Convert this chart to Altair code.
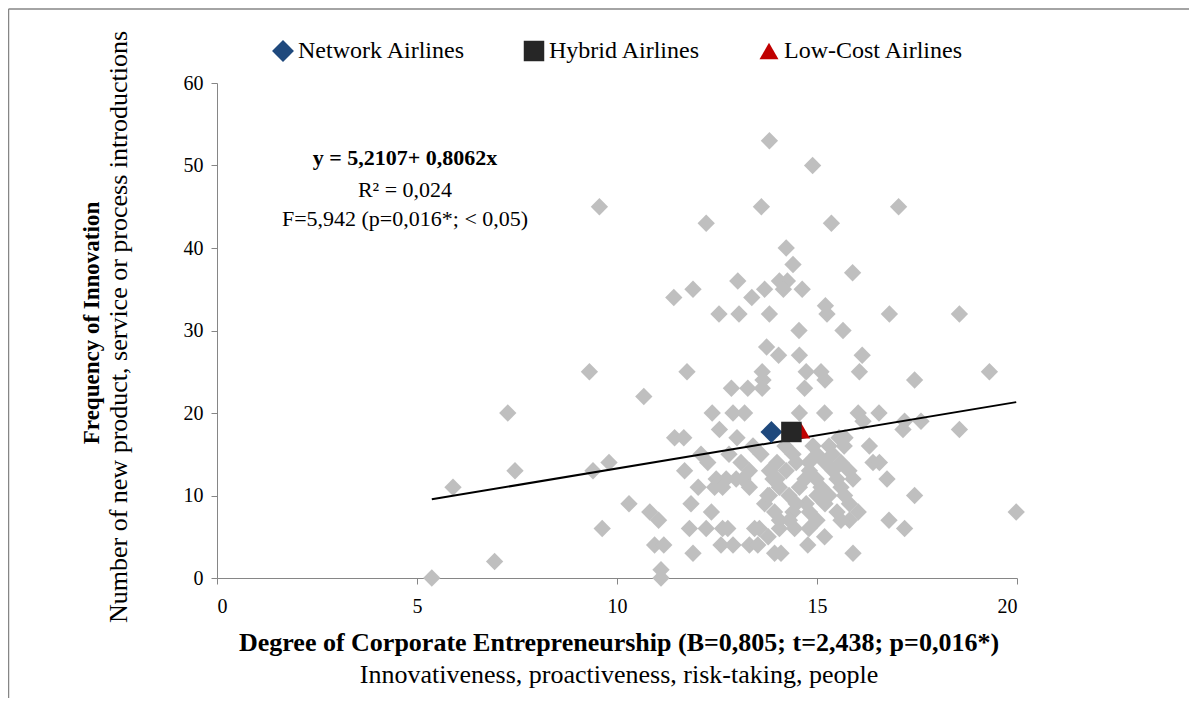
import altair as alt
import pandas as pd

# Degree of Corporate Entrepreneurship (x) and Frequency of Innovation (y)
ce = [5.37, 5.9, 6.94, 7.27, 7.45, 9.31, 9.4, 9.56, 9.63, 9.8,
      10.3, 10.67, 10.82, 11.04, 10.94, 11.17, 11.1, 11.1, 11.9, 11.69,
      11.85, 11.81, 11.44, 11.67, 11.75, 12.1, 12.27, 11.42, 11.9, 12.23,
      13.81, 14.89, 13.61, 15.36, 14.23, 14.4, 13.02, 14.06, 14.26, 13.69,
      14.16, 14.63, 13.37, 15.21, 15.25, 12.55, 13.05, 13.81, 14.55, 13.74,
      14.04, 14.56, 13.63, 14.73, 15.1, 13.65, 15.2, 12.86, 13.27, 13.63,
      14.69, 12.38, 12.9, 13.19, 14.56, 15.19, 12.56,
      17.04, 15.89, 16.81, 18.56, 15.65, 16.13, 16.06, 17.44, 19.31,
      16.03, 16.55, 16.15, 17.19, 17.6, 17.15, 18.56, 16.31, 16.4, 16.56,
      16.75, 17.44, 15.69, 15.81, 16.03, 19.98, 15.81, 16.8, 17.19, 15.19,
      15.9, 15.68, 15.55, 15.7, 15.39,
      12.48, 12.73, 12.98, 12.44, 12.64, 13.31, 13.15, 13.31, 13.1, 13.81,
      13.9, 14.06, 13.81, 13.69, 14.23, 14.48, 14.81, 14.56, 14.98, 14.73,
      14.4, 14.06, 13.56, 12.36, 12.23, 12.64, 12.77, 13.44, 13.78, 14.06,
      14.44, 12.6, 12.9, 13.31, 13.52, 13.94, 14.1, 14.77, 14.31, 14.48,
      14.81, 13.77, 13.94, 12.03, 14.0, 14.4, 14.8, 15.2, 13.4, 13.0,
      12.8, 13.6, 14.2, 14.9, 15.3, 15.0, 15.4, 15.1, 15.5, 15.3,
      15.6, 15.0, 14.3, 14.7, 15.2, 15.5, 14.0, 15.6, 15.8, 15.9,
      15.6, 15.0, 14.8]
freq = [0, 11, 2, 20, 13, 25, 13, 45, 6, 14,
        9, 22, 8, 7, 4, 4, 1, 0, 3, 13,
        9, 6, 17, 17, 25, 15, 14, 34, 35, 43,
        53, 50, 45, 43, 40, 38, 36, 36, 36, 35,
        35, 35, 34, 33, 32, 32, 32, 32, 30, 28,
        27, 27, 25, 25, 25, 24, 24, 23, 23, 23,
        23, 20, 20, 20, 20, 20, 18,
        45, 37, 32, 32, 30, 27, 25, 24, 25,
        20, 20, 19, 19, 19, 18, 18, 16, 14, 14,
        12, 10, 10, 9, 8, 8, 7, 7, 6, 5,
        3, 16, 17, 17, 15,
        12, 12, 12, 11, 11, 13, 12, 11, 14, 13,
        12, 11, 10, 9, 13, 14, 13, 11, 12, 9,
        8, 7, 6, 8, 6, 6, 6, 6, 5, 6,
        6, 4, 4, 4, 4, 3, 3, 4, 7, 9,
        8, 10, 8, 11, 14, 15, 14, 14, 16, 17,
        15, 15, 16, 16, 16, 15, 13, 11, 12, 10,
        11, 10, 10, 12, 9, 8, 12, 14, 13, 12,
        7, 7, 6]

groups = ["Network Airlines", "Hybrid Airlines", "Low-Cost Airlines"]
group_ce = [13.86, 14.36, 14.59]
group_freq = [17.7, 17.7, 17.9]
group_order = [2, 3, 1]
group_colors = ["#1F497D", "#262626", "#C00000"]
group_shapes = ["diamond", "square", "triangle-up"]
group_sizes = [480, 360, 330]

intercept = 5.2107
slope = 0.8062

FONT = "Liberation Serif"
AXC = "#868686"

pts = pd.DataFrame({"ce": ce, "freq": freq})
grp = pd.DataFrame({"group": groups, "ce": group_ce, "freq": group_freq,
                    "ord": group_order})
xs = [min(ce), max(ce)]
fit = pd.DataFrame({"ce": xs, "freq": [intercept + slope * v for v in xs]})
one = pd.DataFrame({"k": [0]})

xscale = alt.Scale(domain=[0, 20], nice=False, zero=False)
yscale = alt.Scale(domain=[0, 60], nice=False)

xaxis = alt.Axis(values=[0, 5, 10, 15, 20], title=None, grid=False,
                 domainColor=AXC, tickColor=AXC, tickSize=6, labelPadding=12,
                 labelFont=FONT, labelFontSize=20, labelColor="black")
yaxis = alt.Axis(values=[0, 10, 20, 30, 40, 50, 60], title=None, grid=False,
                 domainColor=AXC, tickColor=AXC, tickSize=6, labelPadding=8,
                 labelFont=FONT, labelFontSize=20, labelColor="black")

scatter = alt.Chart(pts).mark_point(
    shape="diamond", filled=True, size=300, color="#BFBFBF", opacity=1
).encode(
    x=alt.X("ce:Q", scale=xscale, axis=xaxis),
    y=alt.Y("freq:Q", scale=yscale, axis=yaxis),
)

line = alt.Chart(fit).mark_line(color="black", strokeWidth=2).encode(
    x=alt.X("ce:Q", scale=xscale),
    y=alt.Y("freq:Q", scale=yscale),
)

legend = alt.Legend(orient="none", legendX=54, legendY=-44, direction="horizontal",
                    title=None, labelFont=FONT, labelFontSize=24, labelColor="black",
                    labelLimit=400, symbolSize=150, labelOffset=3, columnPadding=56,
                    symbolStrokeWidth=0)

group_pts = alt.Chart(grp).mark_point(filled=True, opacity=1).encode(
    x=alt.X("ce:Q", scale=xscale),
    y=alt.Y("freq:Q", scale=yscale),
    color=alt.Color("group:N", scale=alt.Scale(domain=groups, range=group_colors),
                    legend=legend),
    shape=alt.Shape("group:N", scale=alt.Scale(domain=groups, range=group_shapes),
                    legend=legend),
    size=alt.Size("group:N", scale=alt.Scale(domain=groups, range=group_sizes),
                  legend=None),
    order=alt.Order("ord:Q"),
)


def txt(text, x, y, bold=False, angle=0, size=20, align="center"):
    props = dict(text=text, font=FONT, fontSize=size, color="black",
                 align=align, baseline="middle")
    if bold:
        props["fontWeight"] = "bold"
    if angle:
        props["angle"] = angle
    return alt.Chart(one).mark_text(**props).encode(
        x=alt.value(x), y=alt.value(y))


texts = [
    txt("y = 5,2107+ 0,8062x", 188, 75, bold=True, size=22),
    txt("R² = 0,024", 188, 107, size=22),
    txt("F=5,942 (p=0,016*; < 0,05)", 188, 136, size=22),
    txt("Degree of Corporate Entrepreneurship (B=0,805; t=2,438; p=0,016*)", 402, 560, bold=True, size=26),
    txt("Innovativeness, proactiveness, risk-taking, people", 402, 592, size=26),
    txt("Frequency of Innovation", -125, 240, bold=True, angle=270, size=23),
    txt("Number of new product, service or process introductions", -98, 244, angle=270, size=26),
]


def rule(x, x2, y, y2):
    return alt.Chart(one).mark_rule(color=AXC, strokeWidth=1.5).encode(
        x=alt.value(x), x2=alt.value(x2), y=alt.value(y), y2=alt.value(y2))


border = [
    rule(-208.5, 974.5, -74, -74),
    rule(-208.5, -208.5, -74, 640),
    rule(974.5, 974.5, -74, 640),
]

chart = alt.layer(
    *border, scatter, line, group_pts, *texts
).properties(
    width=800, height=495,
    autosize=alt.AutoSizeParams(type="none"),
    padding={"left": 209, "top": 75, "right": 172, "bottom": 120},
).configure_view(strokeWidth=0)

chart.save("out.html", embed_options={"renderer": "svg", "actions": False})
